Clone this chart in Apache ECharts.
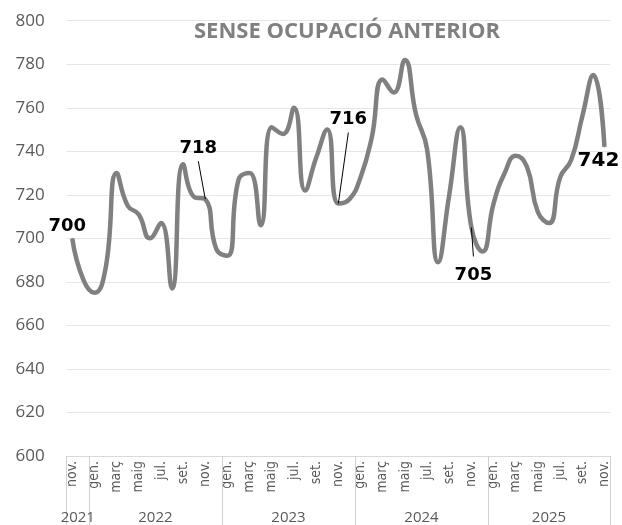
<!DOCTYPE html>
<html>
<head>
<meta charset="utf-8">
<script src="https://cdn.jsdelivr.net/npm/echarts@6/dist/echarts.min.js"></script>
<style>
  html, body { margin: 0; padding: 0; background: #fff; }
  #chart { width: 622px; height: 525px; }
</style>
</head>
<body>
<div id="chart"></div>
<script>
// mesos (nov. 2021 - nov. 2025)
const months = [
  'nov.', 'des.',
  'gen.', 'febr.', 'març', 'abr.', 'maig', 'juny', 'jul.', 'ag.', 'set.', 'oct.', 'nov.', 'des.',
  'gen.', 'febr.', 'març', 'abr.', 'maig', 'juny', 'jul.', 'ag.', 'set.', 'oct.', 'nov.', 'des.',
  'gen.', 'febr.', 'març', 'abr.', 'maig', 'juny', 'jul.', 'ag.', 'set.', 'oct.', 'nov.', 'des.',
  'gen.', 'febr.', 'març', 'abr.', 'maig', 'juny', 'jul.', 'ag.', 'set.', 'oct.', 'nov.'
]
const values = [
  700, 681,
  675, 686, 730, 715, 711, 700, 707, 677, 734, 719, 718, 695,
  692, 727, 730, 706, 751, 748, 760, 722, 737, 750, 716, 718,
  728, 746, 773, 767, 782, 757, 741, 689, 720, 751, 705, 694,
  716, 730, 738, 733, 712, 707, 728, 736, 756, 775, 742
]
const years = ['2021', '2022', '2023', '2024', '2025']
const monthsPerYear = [2, 12, 12, 12, 11]
const yTicks = [600, 620, 640, 660, 680, 700, 720, 740, 760, 780, 800]
// punts amb etiqueta
const labelledIdx = [0, 12, 24, 36, 48]

// posicio de les etiquetes i linies guia (estil, en pixels)
const labelStyle = {
  0: { offset: [-5, -12] },
  12: { offset: [-7, -51], leader: [-7, -38] },
  24: { offset: [10, -84], leader: [10, -71] },
  36: { offset: [2, 48], leader: [2, 29] },
  48: { offset: [-6, 14], big: true },
}

// limits i centres dels anys sobre un eix de valor 0..N
const bounds = [0]
monthsPerYear.forEach(n => bounds.push(bounds[bounds.length - 1] + n))
const yearCenters = monthsPerYear.map((n, i) => bounds[i] + n / 2)

const seriesData = values.map((v, i) => {
  if (labelledIdx.indexOf(i) < 0) return v
  const s = labelStyle[i]
  return {
    value: v,
    label: {
      show: true,
      position: 'inside',
      offset: s.offset,
      formatter: '{c}',
      fontFamily: 'DejaVu Sans',
      fontWeight: 'bold',
      fontSize: s.big ? 20 : 18,
      color: '#000',
    },
  }
})

const chart = echarts.init(document.getElementById('chart'), null, { renderer: 'canvas' })
chart.setOption({
  animation: false,
  title: {
    text: 'SENSE OCUPACIÓ ANTERIOR',
    left: 189,
    top: 16,
    textStyle: {
      fontFamily: 'Open Sans',
      fontWeight: 'bold',
      fontSize: 22,
      color: '#808080',
    },
  },
  grid: { left: 66.7, right: 12, top: 20.7, bottom: 69 },
  xAxis: [
    {
      type: 'category',
      data: months,
      boundaryGap: true,
      axisLine: { show: true, lineStyle: { color: '#d9d9d9', width: 1 } },
      axisTick: { show: false },
      axisLabel: {
        interval: 1,
        rotate: 90,
        margin: 5,
        fontFamily: "'Liberation Sans Narrow', 'DejaVu Sans Condensed', 'Open Sans'",
        fontSize: 14,
        color: '#595959',
      },
    },
    {
      type: 'value',
      min: 0,
      max: bounds[bounds.length - 1],
      position: 'bottom',
      axisLine: { show: false },
      splitLine: { show: false },
      axisTick: {
        show: true,
        customValues: bounds,
        length: 69,
        lineStyle: { color: '#d0d0d0', width: 1 },
      },
      axisLabel: {
        customValues: yearCenters,
        margin: 54,
        formatter: v => years[yearCenters.indexOf(v)],
        fontFamily: 'Open Sans',
        fontSize: 15,
        color: '#595959',
      },
    },
  ],
  yAxis: {
    type: 'value',
    min: 600,
    max: 800,
    interval: 20,
    axisLine: { show: false },
    axisTick: { show: false },
    splitLine: { lineStyle: { color: '#e6e6e6', width: 1 } },
    axisLabel: {
      margin: 22,
      fontFamily: 'Open Sans',
      fontSize: 17,
      color: '#595959',
      formatter: v => yTicks.indexOf(v) >= 0 ? String(v) : '',
    },
  },
  series: [
    {
      type: 'line',
      xAxisIndex: 0,
      data: seriesData,
      smooth: 0.5,
      showSymbol: true,
      showAllSymbol: true,
      symbol: 'circle',
      symbolSize: 1,
      itemStyle: { color: '#808080' },
      lineStyle: { color: '#808080', width: 4.5 },
      z: 3,
    },
  ],
})

// linies guia de les etiquetes, des del punt calculat per l'eix
const leaders = labelledIdx.filter(i => labelStyle[i].leader).map(i => {
  const p = chart.convertToPixel({ seriesIndex: 0 }, [i, values[i]])
  const d = labelStyle[i].leader
  return {
    type: 'line',
    z: 10,
    shape: { x1: p[0], y1: p[1], x2: p[0] + d[0], y2: p[1] + d[1] },
    style: { stroke: '#000', lineWidth: 1 },
  }
})
chart.setOption({ graphic: leaders })
</script>
</body>
</html>
